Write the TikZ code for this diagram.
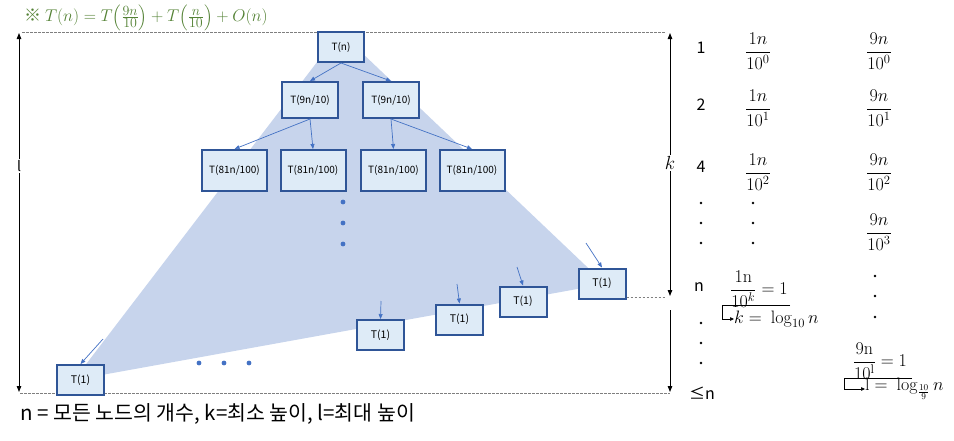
\RequirePackage{fix-cm}
\documentclass[tikz,border=0pt]{standalone}
\usepackage{amsmath}
\usepackage[no-math]{fontspec}
\setmainfont{Noto Sans CJK KR}
\usetikzlibrary{arrows.meta}
\definecolor{boxfill}{HTML}{DEEBF7}
\definecolor{boxdraw}{HTML}{2F5597}
\definecolor{trifill}{HTML}{C7D4EC}
\definecolor{arrblue}{HTML}{4472C4}
\definecolor{titlegreen}{HTML}{548235}
\definecolor{dashgray}{HTML}{7F7F7F}
\newcommand{\parenfrac}[2]{\mbox{\fontsize{14}{17}\selectfont$\left(\frac{\textstyle #1}{\textstyle #2}\right)$}}
\begin{document}
\begin{tikzpicture}[x=1pt,y=-1pt,
  tbox/.style={draw=boxdraw, line width=2pt, fill=boxfill, inner sep=0pt,
    font=\fontsize{10}{12}\selectfont},
  rootbox/.style={tbox, minimum width=46pt, minimum height=30pt},
  midbox/.style={tbox, minimum width=56pt, minimum height=36pt},
  lowbox/.style={tbox, minimum width=65pt, minimum height=41pt},
  leafbox/.style={tbox, minimum width=47pt, minimum height=30pt, font=\fontsize{10.5}{12}\selectfont},
  treearrow/.style={draw=arrblue, line width=0.7pt, -{Triangle[length=5pt,width=4pt]}},
  guide/.style={draw=dashgray, dashed, dash pattern=on 2.5pt off 1.5pt, line width=0.7pt},
  dimarrow/.style={draw=black, line width=1pt, {Triangle[length=6pt,width=4.5pt]}-{Triangle[length=6pt,width=4.5pt]}},
  dimarrowend/.style={draw=black, line width=1pt, -{Triangle[length=6pt,width=4.5pt]}},
  collabel/.style={font=\fontsize{16}{19}\selectfont, inner sep=0pt},
  mathlabel/.style={font=\fontsize{18}{22}\selectfont, inner sep=0pt},
  elbow/.style={draw=black, line width=0.6pt, -{Triangle[length=4pt,width=3.5pt]}},
  bluedot/.style={fill=arrblue},
  blackdot/.style={fill=black}
]
\useasboundingbox (0,0) rectangle (954,440);

% shaded triangle
\fill[trifill] (340,32) -- (74,380) -- (605,284) -- cycle;

% guide lines
\draw[guide] (22,32) -- (665,32);
\draw[guide] (20,393) -- (670,393);

% title
\node[anchor=base west, text=titlegreen, font=\fontsize{17}{20}\selectfont, inner sep=0pt] (title) at (24,21)
  {※ $T(n)=T\parenfrac{9n}{10}+T\parenfrac{n}{10}+O(n)$};

% tree nodes
\node[rootbox] (r) at (341,47) {T(n)};
\node[midbox] (a) at (310,100) {T(9n/10)};
\node[midbox] (b) at (391,100) {T(9n/10)};
\node[lowbox] (c1) at (234.5,170.5) {T(81n/100)};
\node[lowbox] (c2) at (313,170.5) {T(81n/100)};
\node[lowbox] (c3) at (393.5,170.5) {T(81n/100)};
\node[lowbox] (c4) at (472,170.5) {T(81n/100)};
\node[leafbox] (t0) at (80.5,380) {T(1)};
\node[leafbox] (t1) at (380.5,335) {T(1)};
\node[leafbox] (t2) at (459.5,319.5) {T(1)};
\node[leafbox] (t3) at (523,301.5) {T(1)};
\node[leafbox] (t4) at (602,283.5) {T(1)};

\draw[guide] (t4.east |- 0,297) -- (665,297);

\draw[treearrow] (r.south) -- (a.north);
\draw[treearrow] (r.south) -- (b.north);
\draw[treearrow] (a.south) -- (c1.north);
\draw[treearrow] (a.south) -- (c2.north);
\draw[treearrow] (b.south) -- (c3.north);
\draw[treearrow] (b.south) -- (c4.north);

\coordinate (s0) at (103,339);
\coordinate (s1) at (381,301);
\coordinate (s2) at (457,284);
\coordinate (s3) at (517,267);
\coordinate (s4) at (586,243);
\draw[treearrow] (s0) -- (t0.north);
\draw[treearrow] (s1) -- (t1.north);
\draw[treearrow] (s2) -- (t2.north);
\draw[treearrow] (s3) -- (t3.north);
\draw[treearrow] (s4) -- (t4.north);

% blue dots
\foreach \yy in {202,223,244} \fill[bluedot] (343,\yy) circle (2.4pt);
\foreach \xx in {199,224,249} \fill[bluedot] (\xx,363) circle (2.4pt);

% left dimension l
\draw[dimarrow] (19,33) -- (19,392);
\node[fill=white, inner sep=1pt, font=\fontsize{14}{16}\selectfont] (llab) at (19,166) {l};

% right dimension k
\draw[dimarrow] (670,33) -- (670,296);
\node[fill=white, inner sep=1.5pt, font=\fontsize{19}{22}\selectfont] (klab) at (670,163) {$k$};
\draw[dimarrowend] (670,310) -- (670,392);

% right column: level counts
\node[collabel] (n1) at (701,48) {1};
\node[collabel] (n2) at (701,105) {2};
\node[collabel] (n4) at (701,167) {4};
\node[collabel] (nn) at (699,287) {n};
\node[collabel] (nle) at (702,393) {≤n};
\foreach \yy in {203,223,243,323,343,363} \fill[blackdot] (701,\yy) circle (1.3pt);

% column 2
\node[mathlabel] (f10) at (758,51) {$\dfrac{1n}{10^0}$};
\node[mathlabel] (f11) at (758,108) {$\dfrac{1n}{10^1}$};
\node[mathlabel] (f12) at (758,172) {$\dfrac{1n}{10^2}$};
\foreach \yy in {203,223,243} \fill[blackdot] (753,\yy) circle (1.3pt);
\node[mathlabel] (fk) at (759,289) {$\dfrac{1\mathrm{n}}{10^{k}}=1$};
\node[mathlabel, anchor=west] (keq) at (734,319) {$k=\ \log_{10} n$};
\coordinate (e1a) at (790,305);
\coordinate (e1b) at (722,305);
\draw[elbow] (e1a) -- (e1b) |- (keq.west);

% column 3
\node[mathlabel] (f90) at (879,51) {$\dfrac{9n}{10^0}$};
\node[mathlabel] (f91) at (879,108) {$\dfrac{9n}{10^1}$};
\node[mathlabel] (f92) at (879,172) {$\dfrac{9n}{10^2}$};
\node[mathlabel] (f93) at (879,232) {$\dfrac{9n}{10^3}$};
\foreach \yy in {276,296,317} \fill[blackdot] (875,\yy) circle (1.3pt);
\node[mathlabel] (fl) at (880,361) {$\dfrac{9\mathrm{n}}{10^{\mathrm{l}}}=1$};
\node[mathlabel, anchor=west] (leq) at (865,389) {$\mathrm{l}=\ \log_{\frac{10}{9}} n$};
\coordinate (e2a) at (912,378);
\coordinate (e2b) at (844,378);
\draw[elbow] (e2a) -- (e2b) |- (leq.west);

% bottom caption
\node[anchor=west, inner sep=0pt, font=\fontsize{20.5}{24}\selectfont] (cap) at (20,414)
  {n = 모든 노드의 개수, k=최소 높이, l=최대 높이};
\end{tikzpicture}
\end{document}
